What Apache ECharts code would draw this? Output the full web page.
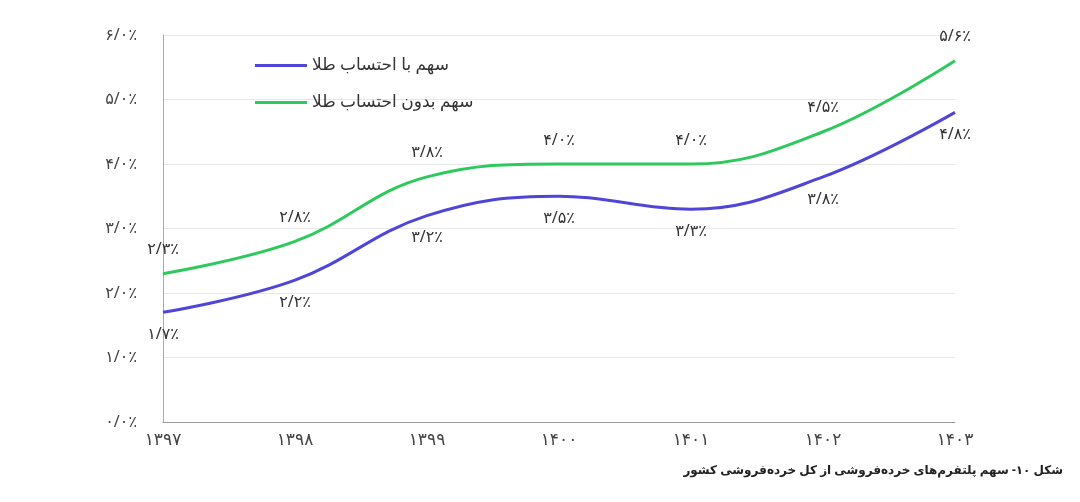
<!DOCTYPE html>
<html><head><meta charset="utf-8">
<script src="https://cdn.jsdelivr.net/npm/echarts@6/dist/echarts.min.js"></script>
<style>body{margin:0;background:#fff}#c{width:1080px;height:502px}</style>
</head><body><div id="c"></div>
<script>
const categories = ['1397','1398','1399','1400','1401','1402','1403'];
const withGold = [1.7, 2.2, 3.2, 3.5, 3.3, 3.8, 4.8];
const withoutGold = [2.3, 2.8, 3.8, 4.0, 4.0, 4.5, 5.6];
const seriesNames = ['سهم با احتساب طلا', 'سهم بدون احتساب طلا'];
const caption = 'شکل ۱۰- سهم پلتفرم‌های خرده‌فروشی از کل خرده‌فروشی کشور';
const fa = s => String(s).replace(/\d/g, d => '۰۱۲۳۴۵۶۷۸۹'[d]);
const pct = v => fa(v.toFixed(1).replace('.', '/')) + '٪';
const font = '"Noto Sans", "DejaVu Sans", sans-serif';
const chart = echarts.init(document.getElementById('c'));
chart.setOption({
  animation: false,
  textStyle: { fontFamily: font },
  grid: { left: 163, right: 125, top: 35, bottom: 80 },
  legend: {
    orient: 'vertical', left: 250, top: 52, itemWidth: 52, itemHeight: 3, itemGap: 20,
    icon: 'rect', textStyle: { fontSize: 17, color: '#333', fontFamily: font },
    data: seriesNames
  },
  title: {
    text: caption, right: 12, top: 460,
    textStyle: { fontSize: 12, fontWeight: 'bold', color: '#222', fontFamily: font }
  },
  xAxis: {
    type: 'category', data: categories, boundaryGap: false,
    axisLine: { lineStyle: { color: '#999' } }, axisTick: { show: false },
    axisLabel: { formatter: v => fa(v), fontSize: 17, color: '#444', margin: 10 }
  },
  yAxis: {
    type: 'value', min: 0, max: 6, interval: 1,
    axisLine: { show: true, lineStyle: { color: '#aaa' } },
    splitLine: { lineStyle: { color: '#e8e8e8' } },
    axisLabel: { formatter: v => pct(v), fontSize: 16, color: '#444', margin: 26 }
  },
  series: [
    { name: seriesNames[0], type: 'line', smooth: 0.4, data: withGold, symbol: 'circle', symbolSize: 0.1, showSymbol: true,
      lineStyle: { width: 3, color: '#4f46d9' }, itemStyle: { color: '#4f46d9' },
      label: { show: true, position: 'bottom', distance: 14, formatter: p => pct(p.value), fontSize: 16, color: '#333' } },
    { name: seriesNames[1], type: 'line', smooth: 0.4, data: withoutGold, symbol: 'circle', symbolSize: 0.1, showSymbol: true,
      lineStyle: { width: 3, color: '#2ec95c' }, itemStyle: { color: '#2ec95c' },
      label: { show: true, position: 'top', distance: 16, formatter: p => pct(p.value), fontSize: 16, color: '#333' } }
  ]
});
</script></body></html>
